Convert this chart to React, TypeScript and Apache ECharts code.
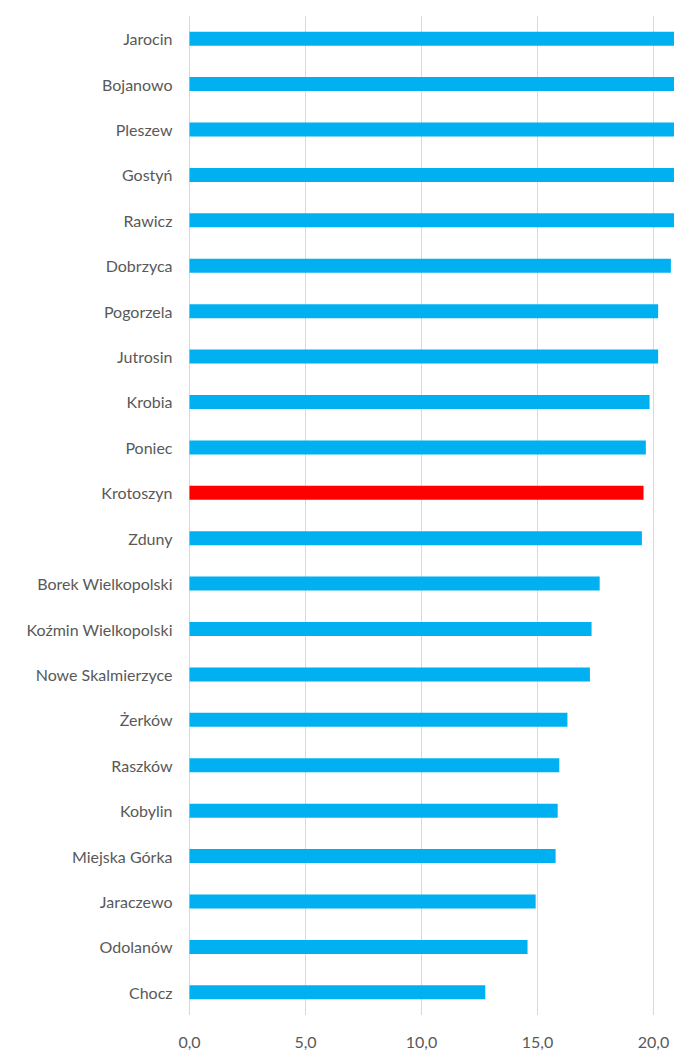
import React, { useEffect, useRef } from "react";
import * as echarts from "echarts";

const categories = [
  "Jarocin", "Bojanowo", "Pleszew", "Gostyń", "Rawicz", "Dobrzyca", "Pogorzela",
  "Jutrosin", "Krobia", "Poniec", "Krotoszyn", "Zduny", "Borek Wielkopolski",
  "Koźmin Wielkopolski", "Nowe Skalmierzyce", "Żerków", "Raszków", "Kobylin",
  "Miejska Górka", "Jaraczewo", "Odolanów", "Chocz",
];
const values = [
  23.5, 22.8, 22.0, 21.5, 21.0, 20.75, 20.2, 20.2, 19.83, 19.67, 19.57, 19.5,
  17.68, 17.33, 17.26, 16.29, 15.94, 15.87, 15.78, 14.92, 14.57, 12.75,
];
const highlighted = "Krotoszyn";
const xTicks = [0, 5, 10, 15, 20, 25];

export default function App() {
  const ref = useRef<HTMLDivElement>(null);
  useEffect(() => {
    if (!ref.current) return;
    const chart = echarts.init(ref.current, null, { renderer: "svg" });
    chart.setOption({
      animation: false,
      backgroundColor: "#ffffff",
      grid: { left: 189.5, top: 16, width: 580, height: 999, containLabel: false },
      xAxis: {
        type: "value",
        min: xTicks[0],
        max: xTicks[xTicks.length - 1],
        interval: 5,
        axisLine: { show: false },
        axisTick: { show: false },
        splitLine: { show: true, lineStyle: { color: "#d9d9d9", width: 1 } },
        axisLabel: {
          color: "#595959",
          fontFamily: "Lato",
          fontSize: 16,
          margin: 18,
          showMaxLabel: false,
          formatter: (v: number) => v.toFixed(1).replace(".", ","),
        },
      },
      yAxis: {
        type: "category",
        inverse: true,
        data: categories,
        axisLine: { show: false },
        axisTick: { show: false },
        axisLabel: { color: "#595959", fontFamily: "Lato", fontSize: 16, margin: 17 },
      },
      series: [
        {
          type: "bar",
          barWidth: 14,
          data: values.map((v, i) => ({
            value: v,
            itemStyle: { color: categories[i] === highlighted ? "#ff0000" : "#00b0f0" },
          })),
        },
      ],
    });
    return () => chart.dispose();
  }, []);
  return (
    <div style={{ position: "fixed", left: 0, top: 0, width: 674, height: 1050, overflow: "hidden", background: "#fff" }}>
      <div ref={ref} style={{ width: 790, height: 1050 }} />
    </div>
  );
}
